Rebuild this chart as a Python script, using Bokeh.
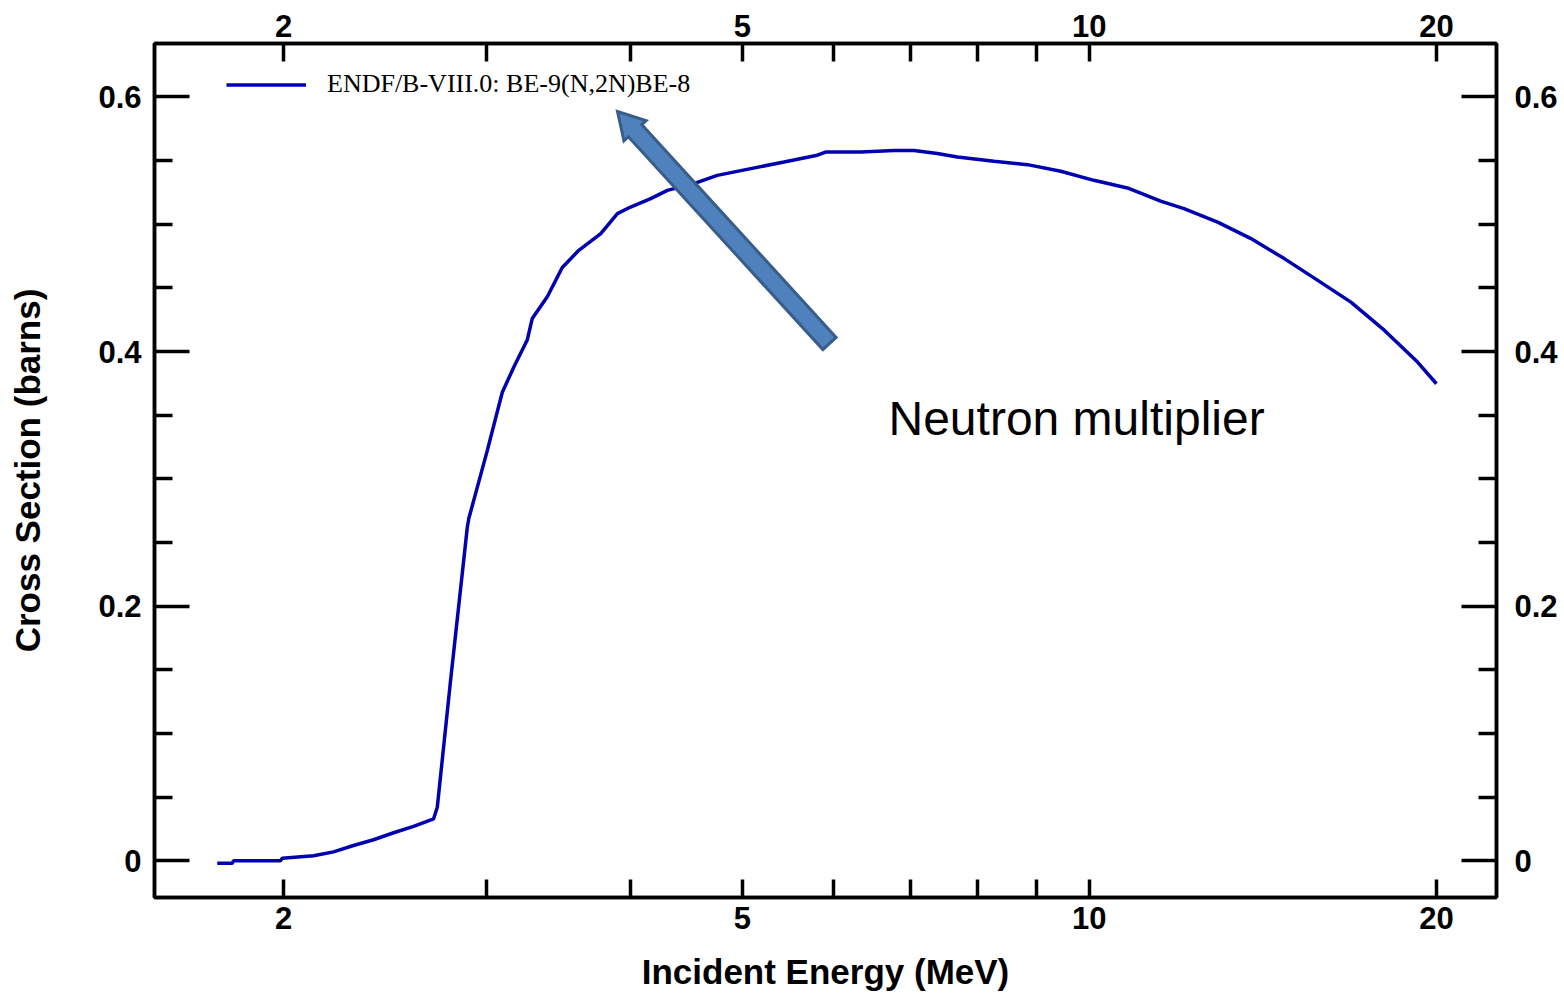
import math
from bokeh.plotting import figure
from bokeh.models import (Range1d, FixedTicker, LogAxis, LinearAxis, Label, Legend,
                          CustomJSTickFormatter)
from bokeh.embed import file_html
from bokeh.resources import INLINE

# ---------------- data ----------------
energy_mev = [1.752, 1.805, 1.810, 1.988, 1.995, 2.124, 2.210, 2.300, 2.394, 2.492,
              2.593, 2.699, 2.719, 2.792, 2.887, 2.896, 3.004, 3.096, 3.169, 3.254,
              3.287, 3.387, 3.490, 3.607, 3.769, 3.896, 4.000, 4.164, 4.305, 4.539,
              4.756, 5.085, 5.434, 5.808, 5.905, 6.336, 6.770, 7.045, 7.382, 7.684,
              8.265, 8.837, 9.445, 10.09, 10.79, 11.53, 12.08, 12.92, 13.81, 14.76,
              15.78, 16.86, 18.03, 19.26, 20.0]
cross_section_b = [-0.002, -0.002, 0.000, 0.000, 0.002, 0.004, 0.007, 0.012, 0.0165, 0.022,
                   0.027, 0.033, 0.042, 0.1415, 0.262, 0.269, 0.322, 0.368, 0.388, 0.409,
                   0.426, 0.443, 0.466, 0.4795, 0.4926, 0.5083, 0.5135, 0.5201, 0.5266, 0.5319,
                   0.5384, 0.5437, 0.5489, 0.5542, 0.5567, 0.5567, 0.558, 0.558, 0.5555, 0.5528,
                   0.5494, 0.5468, 0.5416, 0.5345, 0.5285, 0.5182, 0.5123, 0.5017, 0.4887, 0.4730,
                   0.4559, 0.4388, 0.4166, 0.3917, 0.3747]
series_label = "ENDF/B-VIII.0: BE-9(N,2N)BE-8"
x_major_ticks = [2, 5, 10, 20]
x_minor_ticks = [3, 4, 6, 7, 8, 9]
y_major_ticks = [0, 0.2, 0.4, 0.6]
y_minor_ticks = [0.05, 0.1, 0.15, 0.25, 0.3, 0.35, 0.45, 0.5, 0.55]
annotation_text = "Neutron multiplier"
x_title = "Incident Energy (MeV)"
y_title = "Cross Section (barns)"

# ---------------- layout ----------------
W, H = 1564, 993
FL, FR, FT, FB = 154, 1496, 43, 897          # frame edges in canvas px
XMIN, XMAX = 1.5457, 22.55
YMIN, YMAX = -0.02885, 0.64197

def px_to_x(c):
    lx = math.log10(XMIN) + (c - FL) / (FR - FL) * (math.log10(XMAX) - math.log10(XMIN))
    return 10 ** lx

def py_to_y(c):
    return YMAX - (c - FT) / (FB - FT) * (YMAX - YMIN)

p = figure(width=W, height=H, x_axis_type="log",
           x_range=Range1d(XMIN, XMAX), y_range=Range1d(YMIN, YMAX),
           output_backend="svg", toolbar_location=None,
           min_border_left=FL, min_border_right=W - FR,
           min_border_top=FT, min_border_bottom=H - FB)
p.background_fill_color = "white"
p.border_fill_color = "white"
p.grid.visible = False
p.outline_line_color = "black"
p.outline_line_width = 3.5

fmt = CustomJSTickFormatter(code="return String(Math.round(tick*100)/100);")

def style_axis(ax, major_in, minor_in, standoff):
    ax.axis_line_color = "black"
    ax.axis_line_width = 3.5
    ax.major_tick_line_color = "black"
    ax.major_tick_line_width = 3.5
    ax.minor_tick_line_color = "black"
    ax.minor_tick_line_width = 3.5
    ax.major_tick_in = major_in
    ax.major_tick_out = 0
    ax.minor_tick_in = minor_in
    ax.minor_tick_out = 0
    ax.major_label_text_font = "Liberation Sans"
    ax.major_label_text_font_style = "bold"
    ax.major_label_text_font_size = "31px"
    ax.major_label_text_color = "black"
    ax.major_label_standoff = standoff
    ax.formatter = fmt

def style_title(ax, standoff):
    ax.axis_label_text_font = "Liberation Sans"
    ax.axis_label_text_font_style = "bold"
    ax.axis_label_text_font_size = "35px"
    ax.axis_label_text_color = "black"
    ax.axis_label_standoff = standoff

xt = FixedTicker(ticks=x_major_ticks, minor_ticks=x_minor_ticks)
yt = FixedTicker(ticks=y_major_ticks, minor_ticks=y_minor_ticks)

bx = p.xaxis[0]
bx.ticker = xt
style_axis(bx, 18, 18, 9)
bx.axis_label = x_title
style_title(bx, 20)

ly = p.yaxis[0]
ly.ticker = yt
style_axis(ly, 35, 18, 13)
ly.axis_label = y_title
style_title(ly, 48)

tx = LogAxis(ticker=xt)
style_axis(tx, 18, 18, 7)
p.add_layout(tx, "above")
ry = LinearAxis(ticker=yt)
style_axis(ry, 35, 18, 18)
p.add_layout(ry, "right")

# ---------------- curve ----------------
line = p.line(energy_mev, cross_section_b, line_color="#0000b0", line_width=3.5)

legend = Legend(items=[(series_label, [line])], location=(72, 798),
                label_text_font="Liberation Serif", label_text_font_size="26px",
                label_text_color="black", glyph_width=80, glyph_height=29,
                label_height=29, label_standoff=21, padding=0, margin=0,
                border_line_alpha=0, background_fill_alpha=0)
p.add_layout(legend)

# ---------------- arrow (polygon computed in canvas pixels) ----------------
tail = (829.0, 343.0)
tip = (617.0, 111.0)
dx, dy = tip[0] - tail[0], tip[1] - tail[1]
L = math.hypot(dx, dy)
ux, uy = dx / L, dy / L
nx, ny = -uy, ux
sw, hw, hl = 9.0, 15.0, 26.0
bxp, byp = tip[0] - hl * ux, tip[1] - hl * uy
pts = [
    (tail[0] + sw * nx, tail[1] + sw * ny),
    (bxp + sw * nx, byp + sw * ny),
    (bxp + hw * nx, byp + hw * ny),
    tip,
    (bxp - hw * nx, byp - hw * ny),
    (bxp - sw * nx, byp - sw * ny),
    (tail[0] - sw * nx, tail[1] - sw * ny),
]
p.patch([px_to_x(a) for a, b in pts], [py_to_y(b) for a, b in pts],
        fill_color="#4f81bd", line_color="#385d8a", line_width=3, line_join="miter")

# ---------------- texts ----------------
p.add_layout(Label(x=px_to_x(888), y=py_to_y(418), text=annotation_text,
                   text_font="Liberation Sans", text_font_size="48px",
                   text_color="black", text_align="left", text_baseline="middle"))

open("out.html", "w").write(file_html(p, INLINE))
